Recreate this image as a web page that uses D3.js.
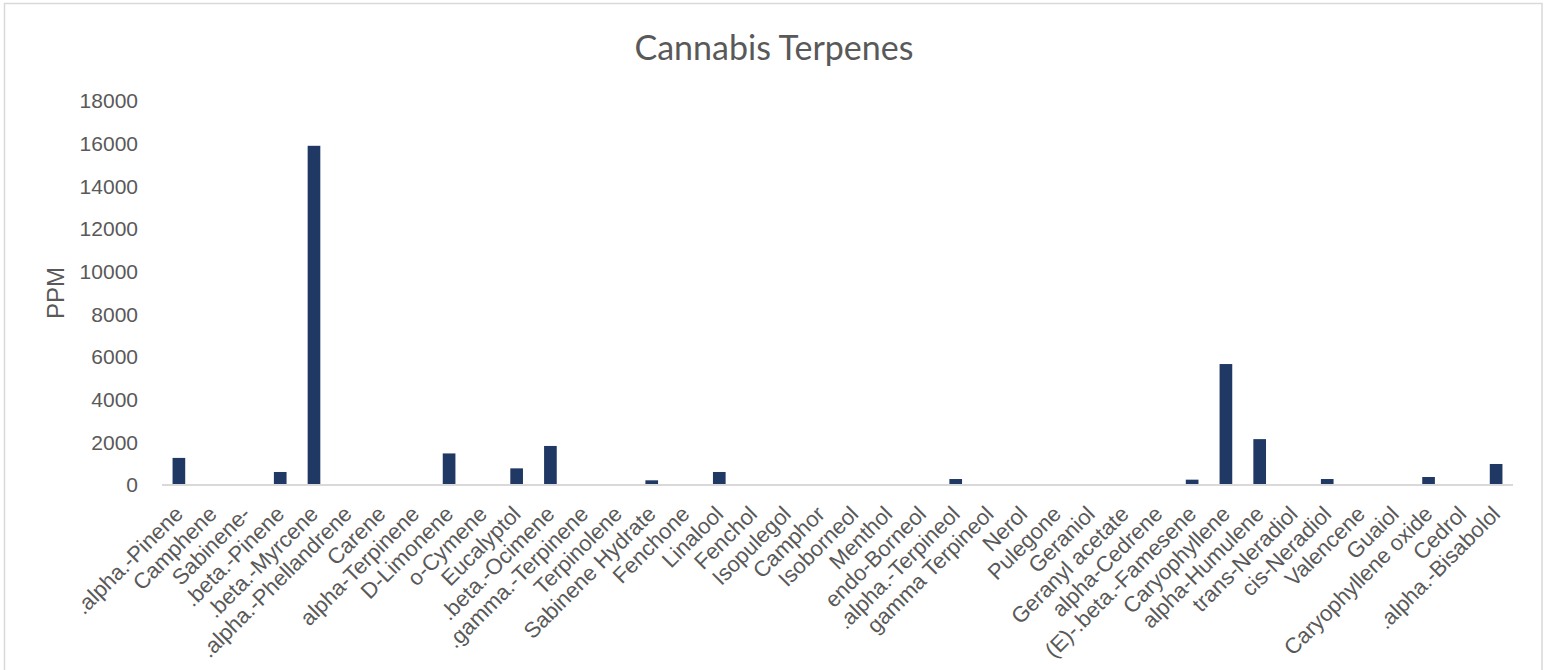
<!DOCTYPE html>
<html>
<head>
<meta charset="utf-8">
<script src="https://cdn.jsdelivr.net/npm/d3@7"></script>
<style>
	body { margin: 0; background: #fff; }
	svg text { font-family: "Liberation Sans", Arial, sans-serif; fill: #595959; }
</style>
</head>
<body>
<div id="chart"></div>
<script>

// terpene names
var terpenes = [".alpha.-Pinene", "Camphene", "Sabinene-", ".beta.-Pinene", ".beta.-Myrcene",
	".alpha.-Phellandrene", "Carene", "alpha-Terpinene", "D-Limonene", "o-Cymene",
	"Eucalyptol", ".beta.-Ocimene", ".gamma.-Terpinene", "Terpinolene", "Sabinene Hydrate",
	"Fenchone", "Linalool", "Fenchol", "Isopulegol", "Camphor",
	"Isoborneol", "Menthol", "endo-Borneol", ".alpha.-Terpineol", "gamma Terpineol",
	"Nerol", "Pulegone", "Geraniol", "Geranyl acetate", "alpha-Cedrene",
	"(E)-.beta.-Famesene", "Caryophyllene", "alpha-Humulene", "trans-Neradiol", "cis-Neradiol",
	"Valencene", "Guaiol", "Caryophyllene oxide", "Cedrol", ".alpha.-Bisabolol"];

// PPM
var ppm = [1270, 0, 0, 610, 15900,
	0, 0, 0, 1480, 0,
	780, 1830, 0, 0, 220,
	0, 610, 0, 0, 0,
	0, 0, 0, 280, 0,
	0, 0, 0, 0, 0,
	250, 5670, 2150, 0, 280,
	0, 0, 375, 0, 985];

var yTicks = [0, 2000, 4000, 6000, 8000, 10000, 12000, 14000, 16000, 18000];

var width = 1546,
	height = 670;

var margin = {top: 101, right: 33, bottom: 185, left: 162};

var data = terpenes.map(function(d, i) { return {name: d, value: ppm[i]}; });

var svg = d3.select("#chart").append("svg")
	.attr("width", width)
	.attr("height", height);

// chart area border
svg.append("rect")
	.attr("x", 4.5)
	.attr("y", 3.5)
	.attr("width", 1537.5)
	.attr("height", 700)
	.attr("fill", "none")
	.attr("stroke", "#d9d9d9")
	.attr("stroke-width", 1.5);

var x = d3.scaleBand()
	.domain(terpenes)
	.range([margin.left, width - margin.right])
	.paddingInner(0.625)
	.paddingOuter(0.3125);

var y = d3.scaleLinear()
	.domain([0, 18000])
	.range([height - margin.bottom, margin.top]);

svg.append("text")
	.attr("x", 774)
	.attr("y", 60)
	.attr("text-anchor", "middle")
	.style("font-family", "Lato, 'Open Sans', sans-serif")
	.style("font-size", "34px")
	.text("Cannabis Terpenes");

var yAxis = svg.append("g")
	.attr("transform", "translate(" + margin.left + ",0)")
	.call(d3.axisLeft(y).tickValues(yTicks).tickSize(0).tickPadding(24).tickFormat(d3.format("d")));

yAxis.select(".domain").remove();
yAxis.selectAll("text").style("font-size", "21px");

svg.append("text")
	.attr("transform", "translate(64," + y(9000) + ") rotate(-90)")
	.attr("text-anchor", "middle")
	.style("font-size", "24px")
	.text("PPM");

svg.selectAll(".bar")
	.data(data)
  .enter().append("rect")
	.attr("class", "bar")
	.attr("x", function(d) { return x(d.name); })
	.attr("y", function(d) { return y(d.value); })
	.attr("width", x.bandwidth())
	.attr("height", function(d) { return y(0) - y(d.value); })
	.attr("fill", "#203864");

var xAxis = svg.append("g")
	.attr("transform", "translate(0," + y(0) + ")")
	.call(d3.axisBottom(x).tickSize(0).tickSizeOuter(0));

xAxis.select(".domain")
	.attr("stroke", "#d9d9d9")
	.attr("stroke-width", 2)
	.attr("d", "M" + margin.left + ",0H" + (width - margin.right));

xAxis.selectAll("text")
	.style("font-size", "22px")
	.attr("text-anchor", "end")
	.attr("dy", "0.35em")
	.attr("transform", "translate(0,25) rotate(-45)")
	.attr("y", 0)
	.attr("x", 0);

</script>
</body>
</html>
